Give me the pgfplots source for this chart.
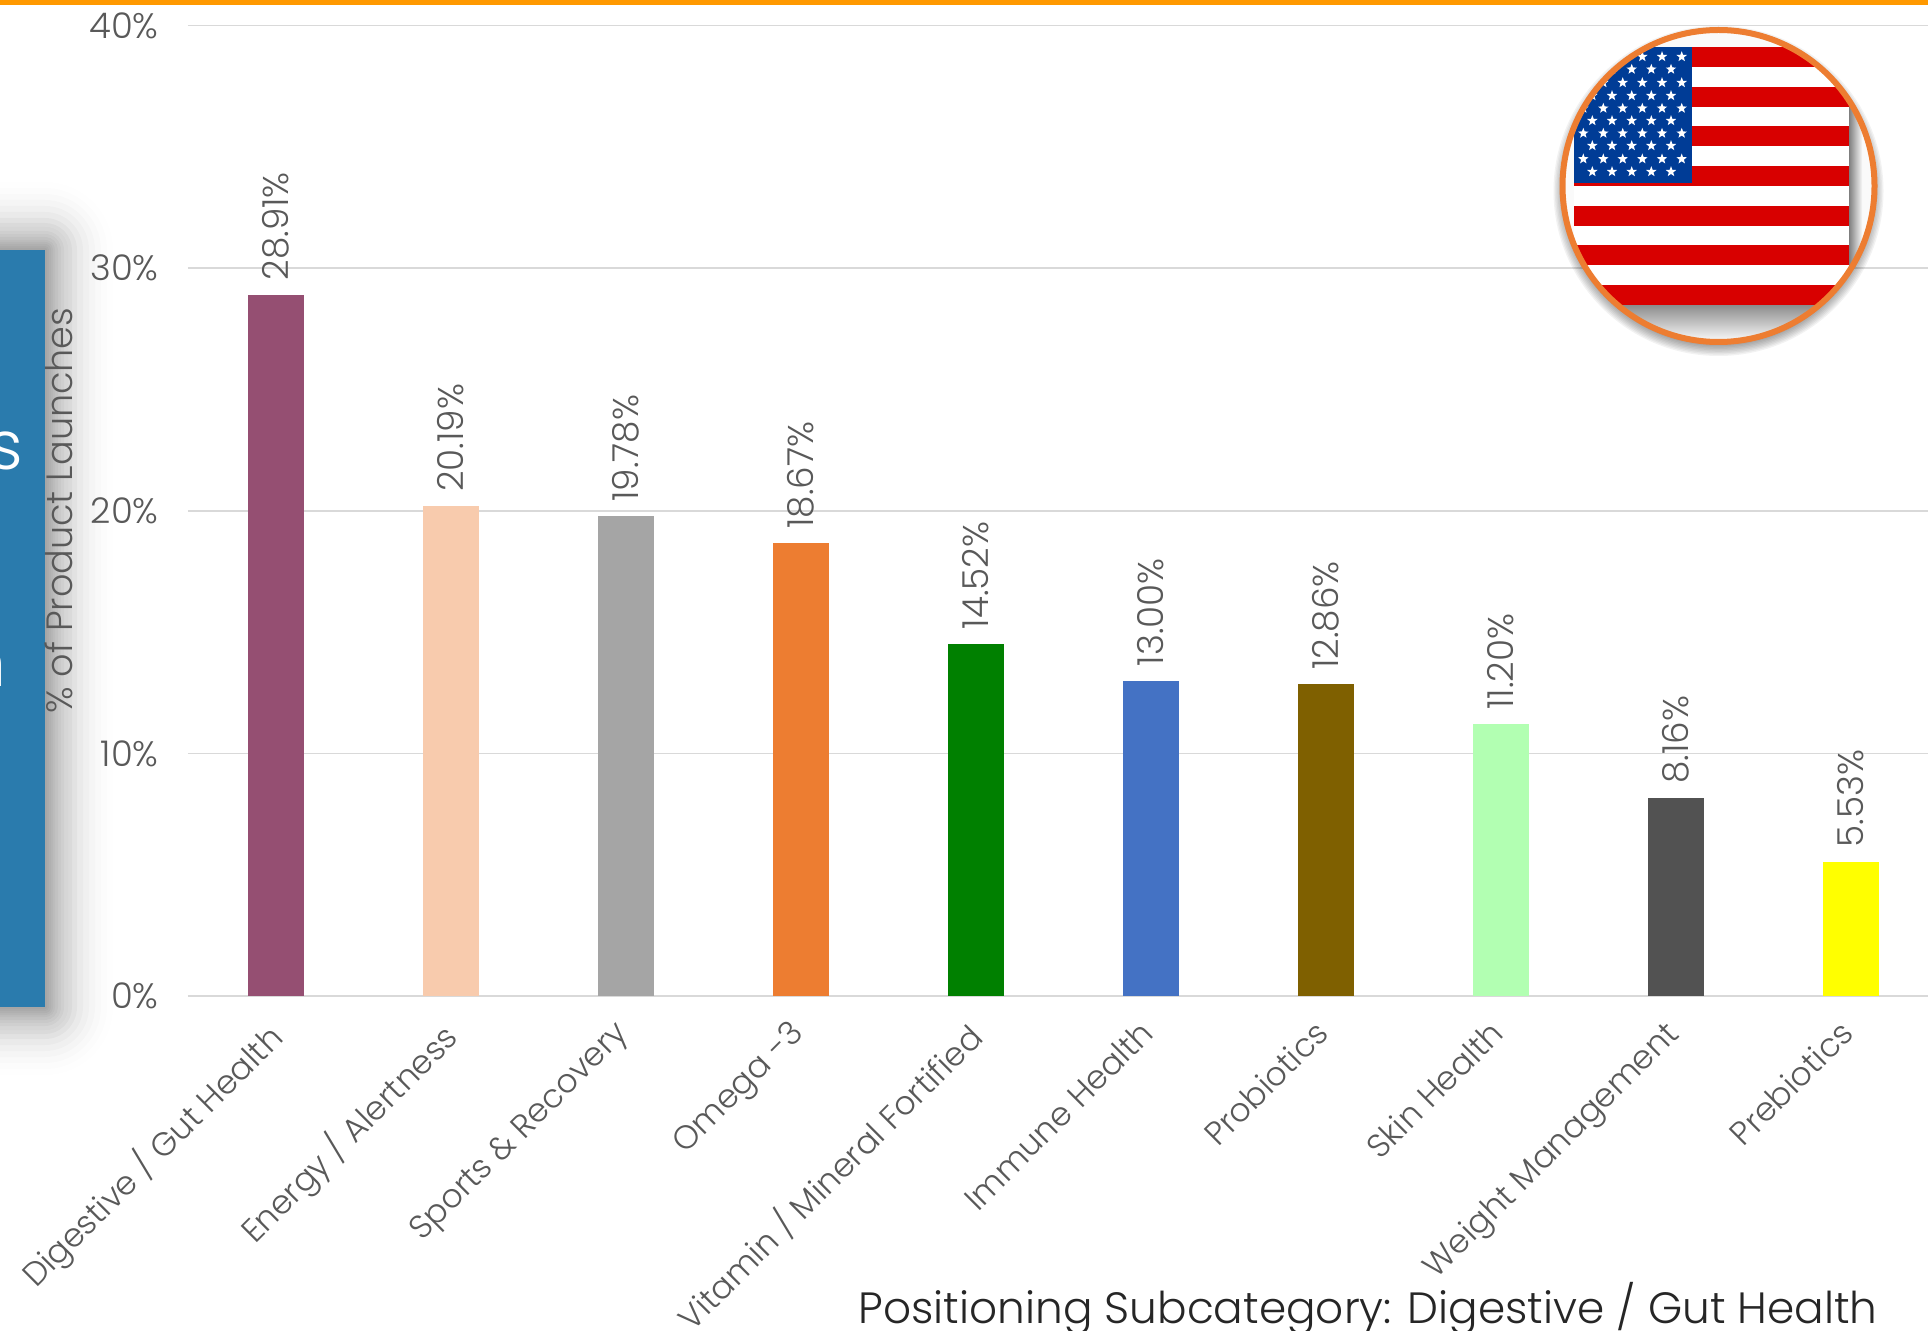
\documentclass[border=0pt]{standalone}
\usepackage{fontspec}
\setmainfont{Poppins Light}
\usepackage{pgfplots}
\pgfplotsset{compat=1.18}
\usetikzlibrary{shapes.geometric}

\definecolor{gridgray}{HTML}{D9D9D9}
\definecolor{labelgray}{HTML}{595959}
\definecolor{panelblue}{HTML}{2A7BAD}
\definecolor{topbar}{HTML}{FF9900}
\definecolor{ring}{HTML}{ED7D31}
\definecolor{flagred}{HTML}{D80000}
\definecolor{flagblue}{HTML}{003C96}
\definecolor{barA}{HTML}{954F72}
\definecolor{barB}{HTML}{F8CBAD}
\definecolor{barC}{HTML}{A5A5A5}
\definecolor{barD}{HTML}{ED7D31}
\definecolor{barE}{HTML}{008000}
\definecolor{barF}{HTML}{4472C4}
\definecolor{barG}{HTML}{7F6000}
\definecolor{barH}{HTML}{B2FFB2}
\definecolor{barI}{HTML}{525252}
\definecolor{barJ}{HTML}{FFFF00}

\pgfplotsset{launchbar/.style={ybar, bar width=27.7pt, bar shift=0pt, fill=#1, draw=none}}

\begin{document}
\begin{tikzpicture}
\path[use as bounding box] (0,0) rectangle (964pt,665pt);
\clip (0,0) rectangle (964pt,665pt);

% Side panel with its soft shadow; this scope counts in 0.5pt units from the top left
\begin{scope}[x=0.5pt,y=-0.5pt,yshift=665pt]
  \foreach \r/\o in {2/.03,4/.03,6/.03,8/.03,10/.03,13/.03,16/.03,19/.03,23/.03,27/.03,32/.03,38/.025,44/.02,50/.015,56/.01,62/.008,68/.005}{
    \fill[black,opacity=\o,rounded corners={\r*0.5pt}] (-80,250-\r) rectangle (45+\r,1007+\r);
  }
  \fill[panelblue] (-10,250) rectangle (45,1007);
  \node[white,anchor=east,font=\fontsize{34}{34}\selectfont,inner sep=0pt] at (24,451) {s};
  \node[white,anchor=east,font=\fontsize{34}{34}\selectfont,inner sep=0pt] at (7,668) {n};
\end{scope}

% Launch shares by positioning subcategory
\begin{axis}[
  at={(94pt,167pt)}, anchor=south west,
  scale only axis, width=870pt, height=485.25pt,
  xmin=-0.503, xmax=9.441, ymin=0, ymax=40,
  axis y line=left, axis x line=bottom,
  x axis line style={draw=gridgray,line width=0.8pt,-},
  y axis line style={draw=none,-},
  ytick={0,10,20,30,40},
  yticklabel={\pgfmathprintnumber{\tick}\%},
  /pgf/number format/assume math mode=true,
  ymajorgrids, grid style={gridgray,line width=0.8pt},
  major tick length=0pt,
  xtick={0,...,9},
  xticklabels={Digestive / Gut Health,Energy / Alertness,Sports \& Recovery,Omega -3,Vitamin / Mineral Fortified,Immune Health,Probiotics,Skin Health,Weight Management,Prebiotics},
  x tick label style={rotate=45,anchor=north east,font=\fontsize{16.4}{16.4}\selectfont,text=labelgray,xshift=-12.3pt,yshift=-3.1pt,inner sep=0pt},
  y tick label style={font=\fontsize{17.7}{17.7}\selectfont,text=labelgray,xshift=-14.5pt,inner sep=0pt},
  ylabel={\% of Product Launches},
  y label style={at={(axis description cs:-0.074,0.5)},anchor=center,font=\fontsize{18.3}{18.3}\selectfont,text=labelgray},
  clip=false,
  nodes near coords={\pgfmathprintnumber[fixed,fixed zerofill,precision=2]{\pgfplotspointmeta}\%},
  every node near coord/.append style={rotate=90,anchor=west,font=\fontsize{17.9}{17.9}\selectfont,text=labelgray,inner ysep=0pt,inner xsep=7pt},
  ]
  \addplot[launchbar=barA] coordinates {(0,28.91)};
  \addplot[launchbar=barB] coordinates {(1,20.19)};
  \addplot[launchbar=barC] coordinates {(2,19.78)};
  \addplot[launchbar=barD] coordinates {(3,18.67)};
  \addplot[launchbar=barE] coordinates {(4,14.52)};
  \addplot[launchbar=barF] coordinates {(5,13.00)};
  \addplot[launchbar=barG] coordinates {(6,12.86)};
  \addplot[launchbar=barH] coordinates {(7,11.20)};
  \addplot[launchbar=barI] coordinates {(8,8.16)};
  \addplot[launchbar=barJ] coordinates {(9,5.53)};
\end{axis}

\begin{scope}[x=0.5pt,y=-0.5pt,yshift=665pt]
  % Top rule
  \fill[topbar] (0,0) rectangle (1928,5);
  % Round flag badge: shadow, disc, stripes, canton, stars, ring
  \foreach \r in {1,...,10}{
    \fill[black,opacity=0.05] (1718.5,191) circle ({151+1.4*\r});
  }
  \fill[white] (1718.5,186) circle (158);
  \begin{scope}
    \clip (1718.5,186) circle (156);
    \fill[black!2] (1560,28) rectangle (1880,345);
    \shade[left color=black!50,right color=black!3] (1849,47) rectangle (1862,305);
    \shade[top color=black!45,bottom color=black!3] (1574,305) rectangle (1862,340);
    \fill[white] (1574,47) rectangle (1849,305);
    \foreach \s in {0,2,...,12}{
      \fill[flagred] (1574,{47+19.85*\s}) rectangle (1849,{47+19.85*(\s+1)});
    }
    \fill[flagblue] (1574,47) rectangle (1692,183);
    \foreach \yy in {56.7,82.7,108.3,133.3,159}{
      \foreach \xx in {1681.7,1662,1642.3,1622.7,1603.3,1583.3}{
        \node[star,star points=5,star point ratio=2.4,fill=white,inner sep=0pt,minimum size=5.5pt] at (\xx,\yy) {};
      }
    }
    \foreach \yy in {69.3,95.7,120.7,145.7,171.7}{
      \foreach \xx in {1671,1651.3,1631.7,1612,1592.3}{
        \node[star,star points=5,star point ratio=2.4,fill=white,inner sep=0pt,minimum size=5.5pt] at (\xx,\yy) {};
      }
    }
  \end{scope}
  \draw[ring,line width=3pt] (1718.5,186) circle (156);
  % Caption naming the highlighted subcategory
  \node[anchor=east,inner sep=0pt,text=black!85,font=\fontsize{21.9}{21.9}\selectfont] at (1878,1309) {Positioning Subcategory: Digestive / Gut Health};
\end{scope}
\end{tikzpicture}
\end{document}
